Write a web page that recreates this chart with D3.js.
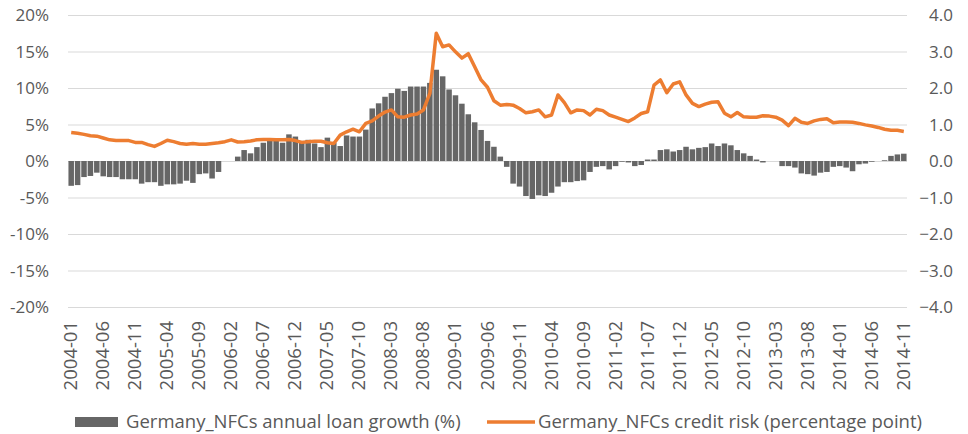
<!DOCTYPE html>
<html>
<head>
<meta charset="utf-8">
<script src="https://cdn.jsdelivr.net/npm/d3@7"></script>
<style>
  body { margin: 0; background: #fff; }
  svg text { font-family: "Open Sans", sans-serif; fill: #595959; }
</style>
</head>
<body>
<svg width="968" height="434"></svg>
<script>
// months 2004-01 .. 2014-11
var months = [];
for (var yr = 2004; yr <= 2014; yr++) {
    for (var mo = 1; mo <= 12; mo++) {
        if (yr == 2014 && mo > 11) break;
        months.push(yr + "-" + (mo < 10 ? "0" + mo : mo));
    }
}

// annual loan growth (%), left axis
var loanGrowth = [
    -3.4, -3.3, -2.2, -2.05, -1.6, -2.1, -2.2, -2.2, -2.5, -2.5,
    -2.5, -3.1, -2.9, -2.9, -3.4, -3.2, -3.2, -3.1, -2.7, -3.0,
    -1.8, -1.7, -2.4, -1.5, 0.0, 0.0, 0.6, 1.5, 1.05, 1.9,
    2.5, 2.75, 2.75, 2.5, 3.65, 3.35, 2.75, 2.9, 2.4, 1.9,
    3.2, 2.5, 2.05, 3.5, 3.35, 3.35, 4.3, 7.2, 7.9, 8.8,
    9.3, 9.9, 9.6, 10.2, 10.2, 10.2, 10.7, 12.5, 11.6, 9.8,
    9.0, 7.85, 6.4, 5.3, 4.25, 2.75, 1.95, 0.6, -0.8, -3.1,
    -3.5, -4.8, -5.2, -4.7, -4.8, -4.35, -3.5, -2.9, -2.9, -2.75,
    -2.65, -1.5, -0.8, -0.7, -1.15, -0.7, -0.1, -0.2, -0.7, -0.55,
    0.2, 0.2, 1.5, 1.6, 1.3, 1.5, 1.95, 1.6, 1.8, 1.9,
    2.4, 2.05, 2.4, 2.15, 1.5, 1.05, 0.7, 0.2, -0.2, 0.0,
    0.0, -0.7, -0.7, -0.9, -1.7, -1.8, -2.0, -1.6, -1.5, -0.8,
    -0.7, -0.9, -1.4, -0.45, -0.35, -0.1, 0.0, 0.1, 0.7, 0.9,
    1.0
];

// credit risk (percentage point), right axis
var creditRisk = [
    0.78, 0.76, 0.73, 0.69, 0.68, 0.63, 0.58, 0.56, 0.56, 0.56,
    0.51, 0.51, 0.45, 0.40, 0.48, 0.57, 0.53, 0.48, 0.46, 0.48,
    0.46, 0.46, 0.48, 0.50, 0.53, 0.58, 0.52, 0.53, 0.55, 0.58,
    0.59, 0.59, 0.58, 0.58, 0.59, 0.56, 0.51, 0.53, 0.54, 0.54,
    0.50, 0.48, 0.71, 0.80, 0.87, 0.80, 1.03, 1.10, 1.23, 1.34,
    1.40, 1.21, 1.20, 1.26, 1.29, 1.40, 1.85, 3.50, 3.13, 3.18,
    2.99, 2.82, 2.94, 2.58, 2.22, 2.02, 1.65, 1.53, 1.55, 1.53,
    1.44, 1.32, 1.35, 1.40, 1.21, 1.26, 1.81, 1.60, 1.32, 1.40,
    1.38, 1.26, 1.42, 1.38, 1.26, 1.20, 1.14, 1.08, 1.18, 1.30,
    1.35, 2.08, 2.22, 1.87, 2.11, 2.17, 1.81, 1.58, 1.49, 1.56,
    1.61, 1.62, 1.31, 1.21, 1.33, 1.21, 1.20, 1.20, 1.24, 1.23,
    1.20, 1.12, 0.97, 1.17, 1.06, 1.03, 1.10, 1.14, 1.16, 1.05,
    1.07, 1.07, 1.06, 1.03, 0.99, 0.96, 0.92, 0.87, 0.84, 0.84,
    0.81
];

var leftTicks = [20, 15, 10, 5, 0, -5, -10, -15, -20];
var rightTicks = [4, 3, 2, 1, 0, -1, -2, -3, -4];
var labelEvery = 5;

var svg = d3.select("svg");
var plotLeft = 68, plotRight = 907, plotTop = 15, plotBottom = 307;

var x = d3.scaleBand()
    .domain(months)
    .range([plotLeft, plotRight])
    .paddingInner(0.14)
    .paddingOuter(0.07);

var yL = d3.scaleLinear().domain([-20, 20]).range([plotBottom, plotTop]);
var yR = d3.scaleLinear().domain([-4, 4]).range([plotBottom, plotTop]);

// gridlines
svg.append("g")
    .selectAll("line")
    .data(leftTicks)
    .enter().append("line")
    .attr("x1", plotLeft).attr("x2", plotRight)
    .attr("y1", function(d) { return yL(d) + 0.5; })
    .attr("y2", function(d) { return yL(d) + 0.5; })
    .style("stroke", "#d9d9d9")
    .style("stroke-width", 1);

// left axis labels
svg.append("g")
    .selectAll("text")
    .data(leftTicks)
    .enter().append("text")
    .attr("x", 49)
    .attr("y", function(d) { return yL(d); })
    .attr("dy", "0.36em")
    .attr("text-anchor", "end")
    .style("font-size", "17px")
    .text(function(d) { return d + "%"; });

// right axis labels
svg.append("g")
    .selectAll("text")
    .data(rightTicks)
    .enter().append("text")
    .attr("x", 953)
    .attr("y", function(d) { return yR(d); })
    .attr("dy", "0.36em")
    .attr("text-anchor", "end")
    .style("font-size", "17px")
    .text(function(d) { return d3.format(".1f")(d); });

// bars
svg.append("g")
    .selectAll("rect")
    .data(loanGrowth)
    .enter().append("rect")
    .attr("x", function(d, i) { return x(months[i]); })
    .attr("width", x.bandwidth())
    .attr("y", function(d) { return Math.min(yL(d), yL(0)); })
    .attr("height", function(d) { return Math.abs(yL(d) - yL(0)); })
    .style("fill", "#666666");

// line
var line = d3.line()
    .x(function(d, i) { return x(months[i]) + x.bandwidth() / 2; })
    .y(function(d) { return yR(d); });

svg.append("path")
    .datum(creditRisk)
    .attr("d", line)
    .style("fill", "none")
    .style("stroke", "#ED7D31")
    .style("stroke-width", 3.5)
    .style("stroke-linejoin", "round");

// category labels
svg.append("g")
    .selectAll("text")
    .data(months.filter(function(d, i) { return i % labelEvery == 0; }))
    .enter().append("text")
    .attr("transform", function(d) {
        return "translate(" + (x(d) + x.bandwidth() / 2 + 6) + ",321) rotate(-90)";
    })
    .attr("text-anchor", "end")
    .style("font-size", "18.5px")
    .text(function(d) { return d; });

// legend
var legend = svg.append("g");
legend.append("rect")
    .attr("x", 75).attr("y", 417).attr("width", 43).attr("height", 10)
    .style("fill", "#666666");
legend.append("text")
    .attr("x", 126).attr("y", 428)
    .style("font-size", "18.5px")
    .text("Germany_NFCs annual loan growth (%)");
legend.append("line")
    .attr("x1", 487).attr("x2", 535).attr("y1", 422).attr("y2", 422)
    .style("stroke", "#ED7D31")
    .style("stroke-width", 3.5);
legend.append("text")
    .attr("x", 538).attr("y", 428)
    .style("font-size", "18.5px")
    .text("Germany_NFCs credit risk (percentage point)");
</script>
</body>
</html>
